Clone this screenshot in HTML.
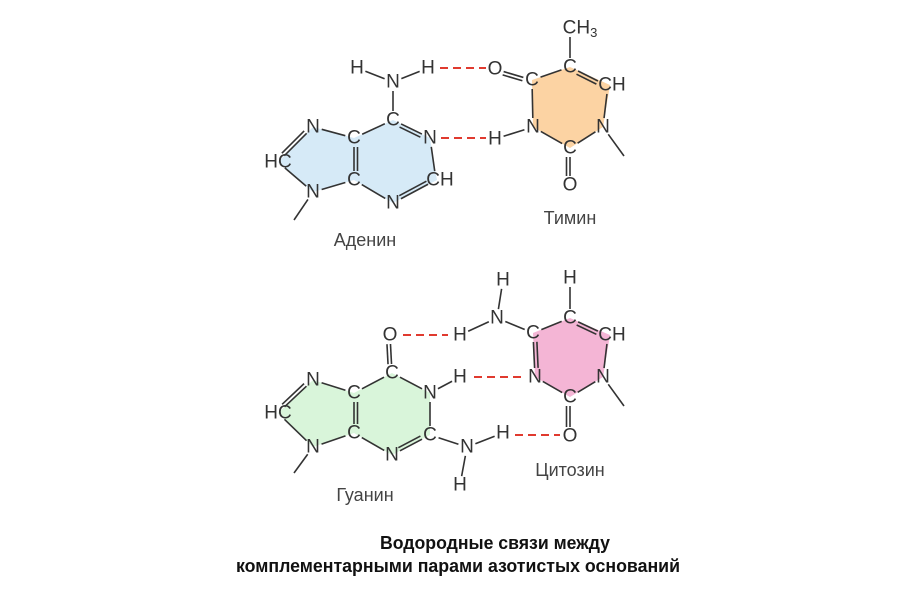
<!DOCTYPE html>
<html><head><meta charset="utf-8"><style>
html,body{margin:0;padding:0;background:#fff;width:914px;height:596px;overflow:hidden}
svg text{font-family:"Liberation Sans",sans-serif;fill:#333}
.a{font-size:19px;text-anchor:middle;dominant-baseline:central}
.l{font-size:18px;text-anchor:middle;fill:#444}
.c{font-size:18px;font-weight:bold;text-anchor:middle;fill:#111}
</style></head><body>
<svg id="s" width="914" height="596" xmlns="http://www.w3.org/2000/svg">
<polygon points="393,120 430,138 437,180 393,203 354,180 313,192 278,162 313,127 354,138" fill="#d6eaf7"/>
<polygon points="532,80 570,67 610,85 603,127 570,148 533,127" fill="#fcd3a3"/>
<polygon points="392,373 430,393 430,435 392,455 354,433 313,447 278,413 313,380 354,393" fill="#d9f5da"/>
<polygon points="533,333 570,318 610,335 603,377 570,397 535,377" fill="#f4b5d5"/>
<g id="b" stroke="#333" stroke-width="1.6" fill="none"></g>
<g stroke="#e03a2f" stroke-width="2" stroke-dasharray="8,5">
<line x1="440" y1="68" x2="486" y2="68"/><line x1="441" y1="138" x2="486" y2="138"/>
<line x1="403" y1="335" x2="448" y2="335"/><line x1="474" y1="377" x2="526" y2="377"/><line x1="515" y1="435" x2="560" y2="435"/>
</g>
<g class="a">
<text x="357" y="68">H</text><text x="393" y="82">N</text><text x="428" y="68">H</text>
<text x="393" y="120">C</text><text x="430" y="138">N</text><text x="440" y="180">CH</text><text x="393" y="203">N</text>
<text x="354" y="180">C</text><text x="354" y="138">C</text><text x="313" y="127">N</text><text x="278" y="162">HC</text><text x="313" y="192">N</text>
<text x="495" y="69">O</text><text x="532" y="80">C</text><text x="570" y="67">C</text><text x="580" y="28">CH<tspan font-size="13" dy="4">3</tspan></text>
<text x="612" y="85">CH</text><text x="603" y="127">N</text><text x="570" y="148">C</text><text x="570" y="185">O</text><text x="533" y="127">N</text><text x="495" y="139">H</text>
<text x="390" y="335">O</text><text x="392" y="373">C</text><text x="430" y="393">N</text><text x="430" y="435">C</text><text x="392" y="455">N</text>
<text x="354" y="433">C</text><text x="354" y="393">C</text><text x="313" y="380">N</text><text x="278" y="413">HC</text><text x="313" y="447">N</text>
<text x="467" y="447">N</text><text x="460" y="485">H</text><text x="503" y="433">H</text><text x="460" y="377">H</text><text x="460" y="335">H</text>
<text x="503" y="280">H</text><text x="497" y="318">N</text><text x="533" y="333">C</text><text x="570" y="318">C</text><text x="570" y="278">H</text>
<text x="612" y="335">CH</text><text x="603" y="377">N</text><text x="570" y="397">C</text><text x="570" y="436">O</text><text x="535" y="377">N</text>
</g>
<text class="l" x="365" y="246">Аденин</text><text class="l" x="570" y="224">Тимин</text>
<text class="l" x="365" y="501">Гуанин</text><text class="l" x="570" y="476">Цитозин</text>
<text class="c" x="495" y="549" textLength="230" lengthAdjust="spacingAndGlyphs">Водородные связи между</text>
<text class="c" x="458" y="572" textLength="444" lengthAdjust="spacingAndGlyphs">комплементарными парами азотистых оснований</text>
</svg>
<script>
var B=[
[357,68,393,82,1],[393,82,428,68,1],[393,82,393,120,1],[393,120,430,138,2],[430,138,436,180,1],[436,180,393,203,2],[393,203,354,180,1],[354,180,354,138,2],[354,138,393,120,1],[354,138,313,127,1],[313,127,278,162,2],[278,162,313,192,1],[313,192,354,180,1],[313,192,294,220,0],
[495,69,532,80,2],[532,80,570,67,1],[570,67,570,28,1],[570,67,606,85,2],[608,85,603,127,1],[603,127,570,148,1],[570,148,570,185,2],[570,148,533,127,1],[533,127,532,80,1],[533,127,495,139,1],[603,127,624,156,0],
[390,335,392,373,2],[392,373,430,393,1],[430,393,430,435,1],[430,435,392,455,2],[392,455,354,433,1],[354,433,354,393,2],[354,393,392,373,1],[354,393,313,380,1],[313,380,278,413,2],[278,413,313,447,1],[313,447,354,433,1],[313,447,294,473,0],
[430,435,467,447,1],[467,447,460,485,1],[467,447,503,433,1],[430,393,460,377,1],
[503,280,497,318,1],[497,318,533,333,1],[460,335,497,318,1],[533,333,570,318,1],[570,318,570,278,1],[570,318,606,335,2],[608,335,603,377,1],[603,377,570,397,1],[570,397,570,436,2],[570,397,535,377,1],[535,377,533,333,2],[603,377,624,406,0]];
var g=document.getElementById('b'),h='';
B.forEach(function(b){var x1=b[0],y1=b[1],x2=b[2],y2=b[3],t=b[4];var dx=x2-x1,dy=y2-y1,L=Math.hypot(dx,dy),ux=dx/L,uy=dy/L,r=9,r2=t==0?0:9;
var a=[x1+ux*r,y1+uy*r,x2-ux*r2,y2-uy*r2];
h+='<line x1="'+a[0]+'" y1="'+a[1]+'" x2="'+a[2]+'" y2="'+a[3]+'"/>';
if(t==2){var o=3.5;h+='<line x1="'+(a[0]-uy*o)+'" y1="'+(a[1]+ux*o)+'" x2="'+(a[2]-uy*o)+'" y2="'+(a[3]+ux*o)+'"/>';}});
g.innerHTML=h;
</script>
</body></html>
